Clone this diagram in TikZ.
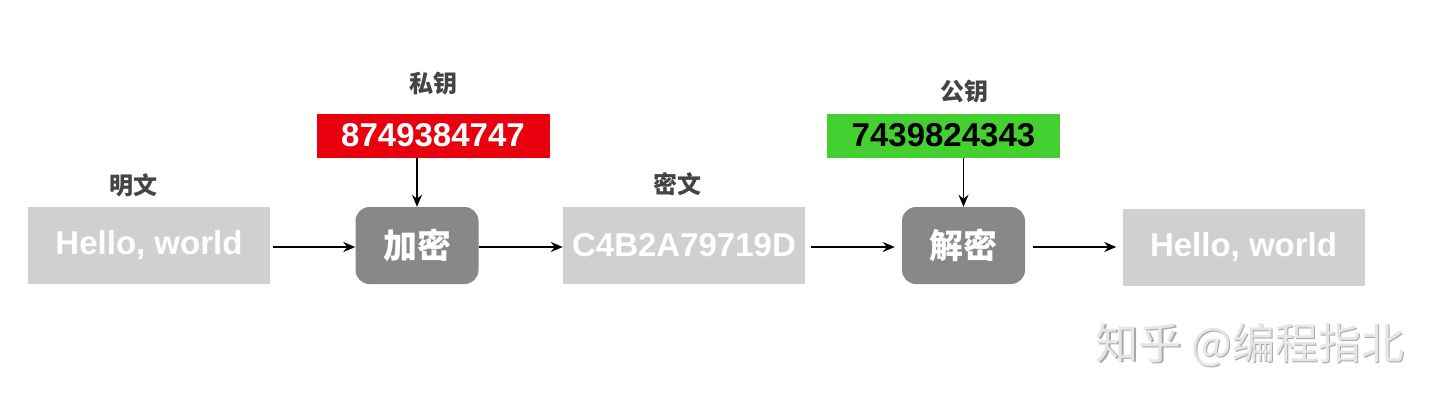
\documentclass[tikz,border=0pt]{standalone}
\usepackage{fontspec}
\setmainfont{Liberation Sans}
\newfontfamily\cjk{Noto Sans CJK SC}
\usetikzlibrary{arrows.meta}
\definecolor{boxgray}{HTML}{D0D0D0}
\definecolor{darkbox}{HTML}{888888}
\definecolor{keyred}{HTML}{E8000F}
\definecolor{keygreen}{HTML}{44D030}
\definecolor{labelgray}{HTML}{444444}
\definecolor{wmfront}{HTML}{E6E6E6}
\definecolor{wmshadow}{HTML}{A8A8A8}
\begin{document}
\begin{tikzpicture}[x=1pt,y=-1pt,
  databox/.style={fill=boxgray, text=white, font=\fontsize{33}{33}\selectfont\bfseries, minimum width=242pt, minimum height=77pt, inner sep=0pt},
  procbox/.style={fill=darkbox, rounded corners=14pt, text=white, font=\fontsize{34}{34}\selectfont\cjk\bfseries, minimum width=123pt, minimum height=77pt, inner sep=0pt},
  keybox/.style={font=\fontsize{33}{33}\selectfont\bfseries, minimum width=233pt, minimum height=44pt, inner sep=0pt},
  lbl/.style={text=labelgray, font=\fontsize{24}{24}\selectfont\cjk\bfseries, inner sep=0pt},
  wm/.style={font=\fontsize{43}{43}\selectfont\cjk, inner sep=0pt},
  arr/.style={-{Stealth[length=12pt,width=10pt]}, line width=1.6pt, black}]
\useasboundingbox[fill=white] (0,0) rectangle (1440,405);
% boxes
\node[databox] (p1) at (149,245.5) {Hello, world};
\node[procbox] (enc) at (417,245.5) {加密};
\node[databox] (c) at (684,245.5) {C4B2A79719D};
\node[procbox] (dec) at (963.5,245.5) {解密};
\node[databox] (p2) at (1243.5,247) {Hello, world};
% keys
\node[keybox, fill=keyred, text=white] (k1) at (433,135.5) {8749384747};
\node[keybox, fill=keygreen, text=black] (k2) at (943.5,135.5) {7439824343};
% labels
\node[lbl] (l1) at (433,83) {私钥};
\node[lbl] (l2) at (964,91) {公钥};
\node[lbl] (l3) at (133,185) {明文};
\node[lbl] (l4) at (677,184) {密文};
% arrows
\draw[arr, shorten <=3pt] (p1.east |- 0,247) -- (enc.west |- 0,247);
\draw[arr] (enc.east |- 0,247) -- (c.west |- 0,247);
\draw[arr, shorten <=6pt, shorten >=7pt] (c.east |- 0,247) -- (dec.west |- 0,247);
\draw[arr, shorten <=8pt, shorten >=6pt] (dec.east |- 0,247) -- (p2.west |- 0,247);
\draw[arr] (enc.north |- k1.south) -- (enc.north);
\draw[arr] (dec.north |- k2.south) -- (dec.north);
% watermark
\node[wm, text=wmshadow] (wms) at (1251.5,346.5) {知乎 @编程指北};
\node[wm, text=wmfront] (wmf) at (1250,345) {知乎 @编程指北};
\end{tikzpicture}
\end{document}
